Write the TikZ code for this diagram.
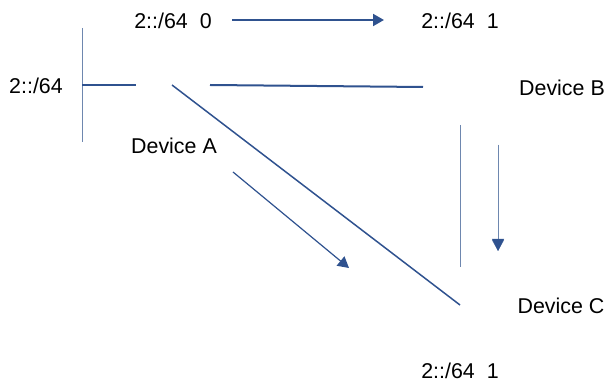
\documentclass[tikz,border=0pt]{standalone}
\usepackage{fontspec}
\setmainfont{Liberation Sans}
\usetikzlibrary{arrows.meta}
\definecolor{lnblue}{RGB}{47,82,143}
\definecolor{lnlight}{RGB}{110,135,175}
\begin{document}
\begin{tikzpicture}[x=1pt,y=-1pt,
  lbl/.style={font=\fontsize{21.4}{25}\selectfont, inner sep=0pt, text=black},
  thickln/.style={draw=lnblue, line width=2pt},
  midln/.style={draw=lnblue, line width=1.5pt},
  thinln/.style={draw=lnlight, line width=1pt},
  arr/.style={-{Triangle[length=11pt,width=12pt]}, draw=lnblue, fill=lnblue}
]
\useasboundingbox (0,0) rectangle (606,387);
% labels
\node[lbl] (t0) at (173,21) {2::/64~~0};
\node[lbl] (t1) at (460,21) {2::/64~~1};
\node[lbl] (pf) at (36,86) {2::/64};
\node[lbl] (A) at (174,146) {Device A};
\node[lbl] (B) at (562,88) {Device B};
\node[lbl] (C) at (561,306) {Device C};
\node[lbl] (t2) at (460,371) {2::/64~~1};
% coordinates
\coordinate (a0) at (232,20);
\coordinate (a1) at (384,20);
\coordinate (v0) at (82,28);
\coordinate (v1) at (82,142);
\coordinate (h0) at (82,85);
\coordinate (h1) at (136,85);
\coordinate (ab0) at (210,85);
\coordinate (ab1) at (423,87);
\coordinate (ac0) at (172,85);
\coordinate (ac1) at (460,305);
\coordinate (bv0) at (460,125);
\coordinate (bv1) at (460,267);
\coordinate (ba0) at (498,145);
\coordinate (ba1) at (498,251);
\coordinate (da0) at (233,172);
\coordinate (da1) at (349,268);
% lines
\draw[thinln] (v0) -- (v1);
\draw[thickln] (h0) -- (h1);
\draw[thickln] (ab0) -- (ab1);
\draw[midln] (ac0) -- (ac1);
\draw[thinln] (bv0) -- (bv1);
% arrows
\draw[arr, line width=2pt] (a0) -- (a1);
\draw[arr, draw=lnlight, line width=1pt] (ba0) -- (ba1);
\fill[lnblue] (ba1) -- ++(-6,-12) -- ++(12,0) -- cycle;
\draw[arr, line width=1.2pt] (da0) -- (da1);
\end{tikzpicture}
\end{document}
